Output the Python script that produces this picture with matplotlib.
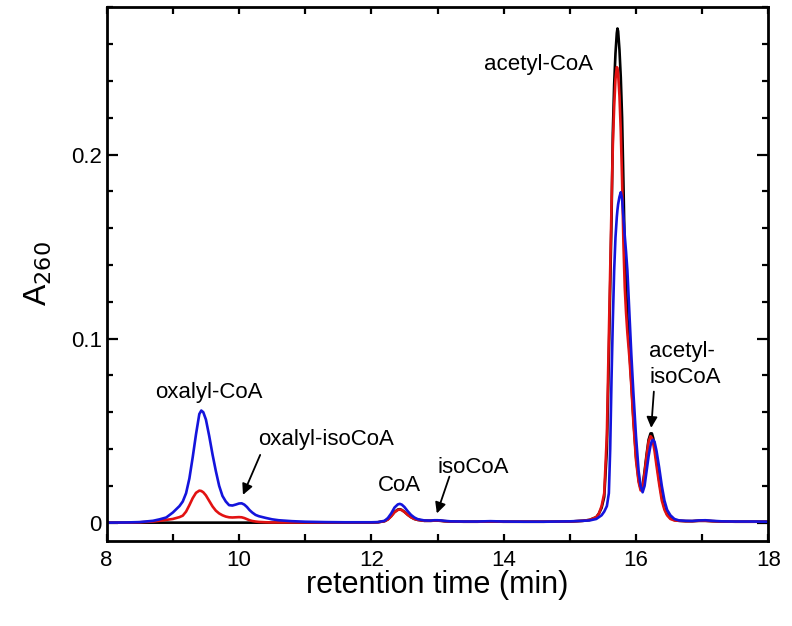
import matplotlib
matplotlib.use("Agg")
import matplotlib.pyplot as plt
from matplotlib.ticker import MultipleLocator

plt.rcParams['font.family'] = ['Liberation Sans', 'DejaVu Sans']

# retention time grid (min), shared by the three traces
t_min = [8.0, 8.3, 8.5, 8.7, 8.8, 8.9,
         9.0, 9.1, 9.15, 9.2, 9.25, 9.3, 9.35, 9.4, 9.43, 9.46,
         9.5, 9.55, 9.6, 9.65, 9.7, 9.75, 9.8, 9.85, 9.9, 9.95,
         10.0, 10.04, 10.08, 10.12, 10.16, 10.2, 10.25, 10.3, 10.4, 10.5,
         10.6, 10.8, 11.0, 11.3, 11.6, 12.0,
         12.1, 12.2, 12.25, 12.3, 12.35, 12.4, 12.43, 12.46, 12.5, 12.55,
         12.6, 12.65, 12.7, 12.8, 12.9, 12.95, 13.0, 13.05, 13.1, 13.2,
         13.4, 13.6, 13.8, 14.0, 14.3, 14.6, 15.0, 15.2,
         15.3, 15.4, 15.44, 15.48, 15.52, 15.56, 15.59, 15.61, 15.63, 15.65,
         15.67, 15.69, 15.71, 15.72, 15.73, 15.75, 15.77, 15.79, 15.81, 15.83,
         15.85, 15.87, 15.9, 15.93, 15.96, 16.0, 16.04, 16.07, 16.1, 16.13,
         16.16, 16.19, 16.22, 16.24, 16.26, 16.28, 16.31, 16.35, 16.39, 16.43,
         16.47, 16.52, 16.58, 16.65,
         16.75, 16.85, 16.95, 17.05, 17.15, 17.3, 17.5, 17.75, 18.0]

a260_black = [0.0, 0.0, 0.0, 0.0, 0.0, 0.0,
              0.0, 0.0, 0.0, 0.0, 0.0, 0.0, 0.0, 0.0, 0.0, 0.0,
              0.0, 0.0, 0.0, 0.0, 0.0, 0.0, 0.0, 0.0, 0.0, 0.0,
              0.0, 0.0, 0.0, 0.0, 0.0, 0.0, 0.0, 0.0, 0.0, 0.0,
              0.0, 0.0, 0.0, 0.0, 0.0, 0.0,
              0.0002, 0.0008, 0.0018, 0.0036, 0.0058, 0.0071, 0.0073, 0.0069, 0.0059, 0.0043,
              0.003, 0.002, 0.0015, 0.001, 0.001, 0.0011, 0.0011, 0.001, 0.0008, 0.0006,
              0.0005, 0.0005, 0.0006, 0.0005, 0.0005, 0.0005, 0.0006, 0.001,
              0.0015, 0.003, 0.005, 0.008, 0.014, 0.040, 0.090, 0.128, 0.165, 0.212,
              0.238, 0.255, 0.266, 0.2685, 0.267, 0.257, 0.242, 0.220, 0.185, 0.148,
              0.128, 0.112, 0.094, 0.076, 0.057, 0.036, 0.023, 0.0185, 0.020, 0.028,
              0.037, 0.045, 0.0485, 0.0485, 0.046, 0.042, 0.034, 0.023, 0.014, 0.008,
              0.0045, 0.0025, 0.0014, 0.001,
              0.0008, 0.0008, 0.001, 0.001, 0.0008, 0.0006, 0.0005, 0.0005, 0.0005]

a260_red = [0.0, 0.0, 0.0002, 0.0006, 0.001, 0.0015,
            0.002, 0.003, 0.0038, 0.006, 0.0095, 0.0133, 0.0162, 0.0174, 0.0172, 0.0165,
            0.0148, 0.0118, 0.0088, 0.0065, 0.005, 0.004, 0.0033, 0.0029, 0.0028, 0.0029,
            0.003, 0.0029, 0.0025, 0.0019, 0.0013, 0.0009, 0.0006, 0.0004, 0.0002, 0.0001,
            0.0001, 0.0001, 0.0001, 0.0001, 0.0001, 0.0001,
            0.0002, 0.0008, 0.0017, 0.0034, 0.0056, 0.0069, 0.0071, 0.0068, 0.0058, 0.0042,
            0.0029, 0.002, 0.0015, 0.001, 0.001, 0.0011, 0.0011, 0.001, 0.0008, 0.0006,
            0.0005, 0.0005, 0.0006, 0.0005, 0.0005, 0.0005, 0.0006, 0.001,
            0.0015, 0.003, 0.005, 0.009, 0.016, 0.048, 0.102, 0.137, 0.172, 0.205,
            0.226, 0.241, 0.2475, 0.247, 0.244, 0.232, 0.213, 0.186, 0.152, 0.128,
            0.114, 0.103, 0.090, 0.074, 0.055, 0.034, 0.022, 0.0175, 0.019, 0.027,
            0.036, 0.044, 0.047, 0.046, 0.043, 0.039, 0.031, 0.021, 0.012, 0.007,
            0.004, 0.002, 0.0012, 0.001,
            0.0008, 0.0008, 0.001, 0.001, 0.0008, 0.0006, 0.0005, 0.0005, 0.0005]

a260_blue = [0.0, 0.0001, 0.0003, 0.001, 0.0018, 0.0028,
             0.0055, 0.009, 0.0115, 0.016, 0.024, 0.0355, 0.048, 0.059, 0.0609, 0.060,
             0.056, 0.047, 0.037, 0.028, 0.020, 0.0145, 0.0115, 0.0095, 0.0093, 0.0098,
             0.0104, 0.0105, 0.0098, 0.0085, 0.0068, 0.0055, 0.0042, 0.0035, 0.0026, 0.0018,
             0.0013, 0.0008, 0.0005, 0.0003, 0.0002, 0.0002,
             0.0003, 0.001, 0.0025, 0.005, 0.0082, 0.0099, 0.0102, 0.0098, 0.0085, 0.0062,
             0.0042, 0.0028, 0.0019, 0.0012, 0.0011, 0.0013, 0.0013, 0.0012, 0.001, 0.0007,
             0.0006, 0.0006, 0.0008, 0.0006, 0.0005, 0.0005, 0.0007, 0.001,
             0.0012, 0.002, 0.003, 0.004, 0.006, 0.009, 0.016, 0.040, 0.078, 0.110,
             0.137, 0.155, 0.166, 0.170, 0.173, 0.177, 0.1795, 0.176, 0.166, 0.156,
             0.147, 0.137, 0.114, 0.091, 0.071, 0.047, 0.028, 0.020, 0.0165, 0.020,
             0.028, 0.036, 0.042, 0.0445, 0.045, 0.044, 0.039, 0.030, 0.020, 0.012,
             0.007, 0.004, 0.002, 0.0012,
             0.001, 0.0009, 0.0012, 0.0013, 0.001, 0.0007, 0.0006, 0.0006, 0.0005]

x_ticks = [8, 10, 12, 14, 16, 18]
y_ticks = [0, 0.1, 0.2]
y_tick_labels = ['0', '0.1', '0.2']

fig = plt.figure(figsize=(7.92, 6.26), dpi=100)
ax = fig.add_axes([0.1347, 0.1363, 0.8354, 0.8520])

ax.plot(t_min, a260_black, color='black', lw=1.9)
ax.plot(t_min, a260_red, color='#e21212', lw=1.9)
ax.plot(t_min, a260_blue, color='#1414dc', lw=1.9)

ax.set_xlim(8, 18)
ax.set_ylim(-0.0098, 0.28)
ax.set_xticks(x_ticks)
ax.xaxis.set_minor_locator(MultipleLocator(1))
ax.set_yticks(y_ticks)
ax.set_yticklabels(y_tick_labels)
ax.yaxis.set_minor_locator(MultipleLocator(0.02))

ax.tick_params(which='both', direction='in', top=True, right=True,
               labelsize=16, width=1.6)
ax.tick_params(axis='y', which='major', length=8)
ax.tick_params(axis='y', which='minor', length=4.5)
ax.tick_params(axis='x', which='both', length=5)
ax.tick_params(axis='x', pad=7)
for s in ax.spines.values():
    s.set_linewidth(2)

ax.set_xlabel('retention time (min)', fontsize=22, labelpad=-1)
ax.set_ylabel('A$_{260}$', fontsize=23, labelpad=12)

tsize = 16
ax.text(15.35, 0.249, 'acetyl-CoA', fontsize=tsize, ha='right', va='center')
ax.text(9.55, 0.0705, 'oxalyl-CoA', fontsize=tsize, ha='center', va='center')
ax.text(11.32, 0.045, 'oxalyl-isoCoA', fontsize=tsize, ha='center', va='center')
ax.text(12.43, 0.0200, 'CoA', fontsize=tsize, ha='center', va='center')
ax.text(13.0, 0.030, 'isoCoA', fontsize=tsize, ha='left', va='center')
ax.text(16.20, 0.093, 'acetyl-', fontsize=tsize, ha='left', va='center')
ax.text(16.20, 0.079, 'isoCoA', fontsize=tsize, ha='left', va='center')

arrow = dict(arrowstyle='-|>', color='black', lw=1.3, mutation_scale=16,
             shrinkA=0, shrinkB=0)
ax.annotate('', xy=(10.06, 0.0151), xytext=(10.32, 0.0368), arrowprops=arrow)
ax.annotate('', xy=(12.99, 0.005), xytext=(13.18, 0.025), arrowprops=arrow)
ax.annotate('', xy=(16.23, 0.0515), xytext=(16.27, 0.0712), arrowprops=arrow)

fig.savefig('out.png', dpi=100)
